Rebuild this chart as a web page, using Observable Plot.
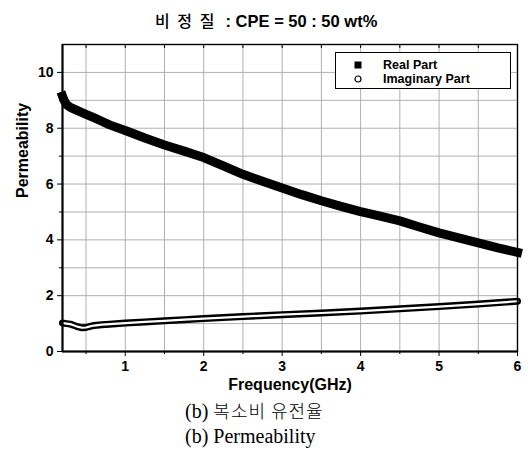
<!DOCTYPE html>
<html>
<head>
<meta charset="utf-8">
<script src="https://cdn.jsdelivr.net/npm/d3@7"></script>
<script src="https://cdn.jsdelivr.net/npm/@observablehq/plot@0.6"></script>
<style>
  html, body { margin: 0; padding: 0; background: #fff; }
  #wrap { position: relative; width: 528px; height: 455px; overflow: hidden; }
  #title { position: absolute; left: 155px; top: 9px; white-space: pre; font: bold 16.5px "Liberation Sans", Arial, sans-serif; line-height: 22px; }
  #title .ko { font-family: "Noto Sans CJK KR", sans-serif; font-weight: 500; font-size: 16px; letter-spacing: 2px; }
  #chart { position: absolute; left: 0; top: 30px; }
  #legend { position: absolute; left: 335px; top: 52px; width: 176px; height: 37px; border: 1.3px solid #000; background: #fff; box-sizing: border-box; font: bold 12.5px "Liberation Sans", Arial, sans-serif; }
  #legend .row { position: absolute; left: 0; height: 16px; line-height: 16px; }
  #legend .sym { position: absolute; left: 16px; }
  #legend .lab { position: absolute; left: 47px; white-space: nowrap; }
  #caption { position: absolute; left: 185px; top: 398px; font: 20px "Liberation Serif", "Times New Roman", serif; line-height: 25px; white-space: nowrap; }
  #caption .ko { font-family: "Noto Sans CJK KR", sans-serif; font-size: 18px; letter-spacing: 1px; font-weight: 300; }
</style>
</head>
<body>
<div id="wrap">
  <div id="title"><span class="ko">비 정 질</span>  : CPE = 50 : 50 wt%</div>
  <div id="chart"></div>
  <div id="legend">
    <div class="row" style="top:4px;"><svg class="sym" width="12" height="16"><rect x="2.5" y="4.5" width="7" height="7" fill="#000"/></svg><span class="lab">Real Part</span></div>
    <div class="row" style="top:18px;"><svg class="sym" width="12" height="16"><circle cx="6" cy="8" r="3" fill="none" stroke="#000" stroke-width="1.2"/></svg><span class="lab">Imaginary Part</span></div>
  </div>
  <div id="caption">(b) <span class="ko">복소비 유전율</span><br>(b) Permeability</div>
</div>
<script>
// Frequency (GHz) and permeability values
const realFreq = [0.2, 0.22, 0.25, 0.3, 0.4, 0.5, 0.6, 0.7, 0.8, 1.0, 1.25, 1.5, 1.75, 2.0, 2.25, 2.5, 2.75, 3.0, 3.25, 3.5, 3.75, 4.0, 4.25, 4.5, 4.75, 5.0, 5.25, 5.5, 5.75, 6.0];
const realPart = [9.15, 9.0, 8.85, 8.75, 8.62, 8.5, 8.38, 8.25, 8.12, 7.92, 7.65, 7.4, 7.18, 6.95, 6.65, 6.35, 6.1, 5.86, 5.62, 5.4, 5.2, 5.01, 4.85, 4.68, 4.46, 4.25, 4.07, 3.89, 3.71, 3.55];
const imagFreq = [0.2, 0.25, 0.3, 0.35, 0.4, 0.45, 0.5, 0.55, 0.6, 0.7, 0.8, 1.0, 1.25, 1.5, 1.75, 2.0, 2.5, 3.0, 3.5, 4.0, 4.5, 5.0, 5.5, 6.0];
const imagPart = [1.02, 1.0, 0.98, 0.93, 0.88, 0.85, 0.86, 0.9, 0.93, 0.96, 0.98, 1.02, 1.06, 1.1, 1.14, 1.18, 1.25, 1.32, 1.38, 1.45, 1.53, 1.61, 1.7, 1.8];
const xTicks = [1, 2, 3, 4, 5, 6];
const xMinorTicks = [0.5, 1.5, 2.5, 3.5, 4.5, 5.5];
const xGridLines = [0.5, 1, 1.5, 2, 2.5, 3, 3.5, 4, 4.5, 5, 5.5];
const yTicks = [0, 2, 4, 6, 8, 10];
const yMinorTicks = [1, 3, 5, 7, 9];
const yGridLines = [1, 2, 3, 4, 5, 6, 7, 8, 9, 10];

const real = realFreq.map((f, i) => ({f, v: realPart[i]}));
const imag = imagFreq.map((f, i) => ({f, v: imagPart[i]}));

const chart = Plot.plot({
  width: 528,
  height: 370,
  marginTop: 14,
  marginLeft: 62,
  marginRight: 11,
  marginBottom: 49,
  x: {domain: [0.2, 6]},
  y: {domain: [0, 11]},
  style: {fontFamily: "'Liberation Sans', Arial, sans-serif", fontWeight: "bold", fontSize: "14px", color: "#000", background: "#fff"},
  marks: [
    Plot.ruleX(xGridLines, {x: d => d, stroke: "#b0b0b0", strokeWidth: 1}),
    Plot.ruleY(yGridLines, {y: d => d, stroke: "#b0b0b0", strokeWidth: 1}),
    Plot.line(real, {x: "f", y: "v", stroke: "#000", strokeWidth: 9, strokeLinejoin: "round", strokeLinecap: "square"}),
    Plot.line(imag, {x: "f", y: "v", stroke: "#000", strokeWidth: 7, strokeLinejoin: "round"}),
    Plot.line(imag, {x: "f", y: "v", stroke: "#fff", strokeWidth: 2.2, strokeLinejoin: "round"}),
    Plot.frame({stroke: "#000", strokeWidth: 1.4}),
    Plot.ruleX([0.2], {stroke: "#000", strokeWidth: 2}),
    Plot.ruleY([0], {stroke: "#000", strokeWidth: 2}),
    Plot.axisX(xTicks, {anchor: "bottom", tickSize: 5, tickPadding: 5, fontSize: 14, fontWeight: "bold", label: null}),
    Plot.axisX(xMinorTicks, {anchor: "bottom", tickSize: 3, tickFormat: () => "", label: null}),
    Plot.axisX(xTicks.concat(xMinorTicks), {anchor: "top", tickSize: -3, tickFormat: () => "", label: null}),
    Plot.axisY(yTicks, {anchor: "left", tickSize: 5, tickPadding: 4, fontSize: 14, fontWeight: "bold", label: null}),
    Plot.axisY(yMinorTicks, {anchor: "left", tickSize: 3, tickFormat: () => "", label: null}),
    Plot.text(["Frequency(GHz)"], {frameAnchor: "bottom", dy: 38, fontSize: 16, fontWeight: "bold"}),
    Plot.text(["Permeability"], {frameAnchor: "left", dx: -40, rotate: -90, fontSize: 16, fontWeight: "bold"})
  ]
});
document.getElementById("chart").appendChild(chart);
</script>
</body>
</html>
